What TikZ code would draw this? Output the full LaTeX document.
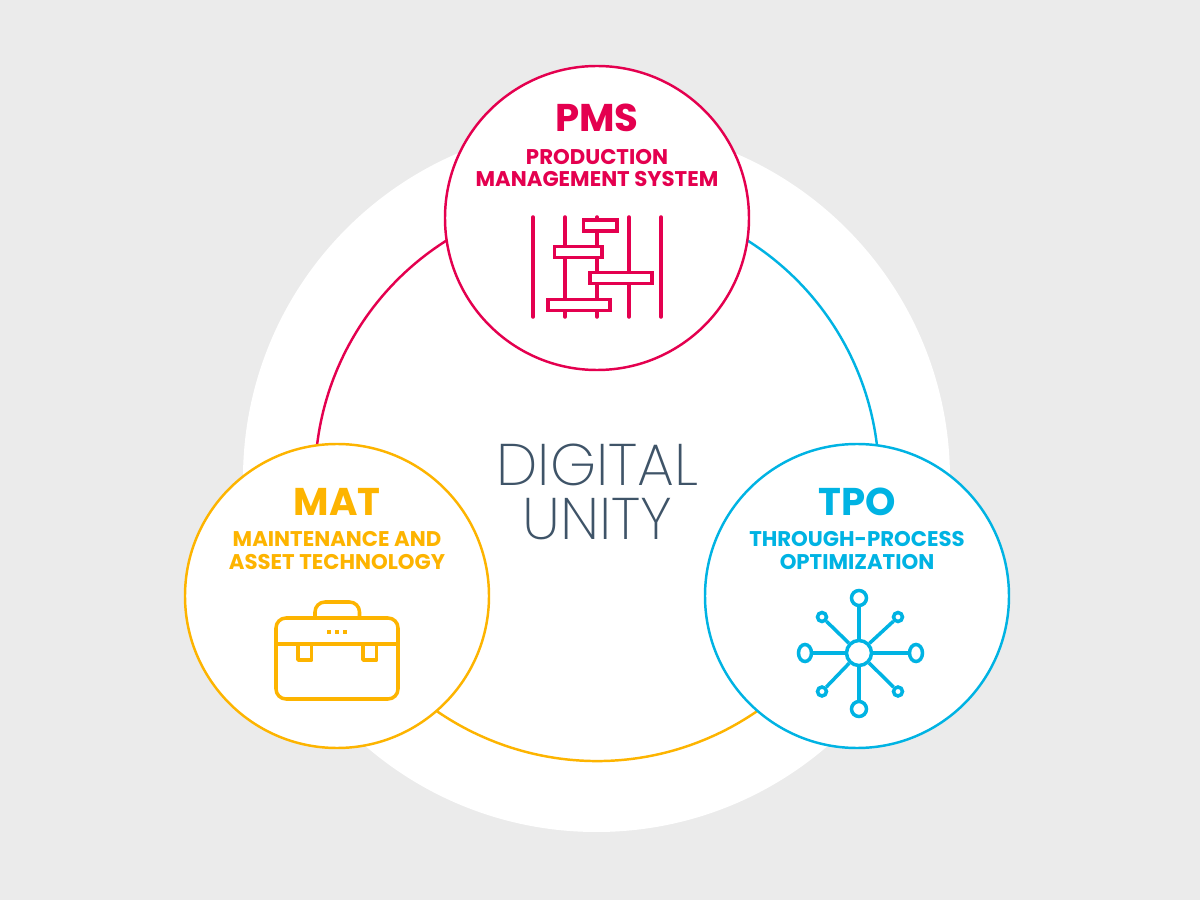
\documentclass[tikz,border=0pt]{standalone}
\usepackage{fontspec}
\setmainfont{Poppins}[UprightFont=* Bold,BoldFont=* Bold]
\newfontfamily\thinfont{Poppins ExtraLight}
\usetikzlibrary{shapes.geometric}
\definecolor{pmsred}{HTML}{E4004F}
\definecolor{matyellow}{HTML}{FDB400}
\definecolor{tpoblue}{HTML}{00B3E3}
\definecolor{paper}{HTML}{EBEBEB}
\definecolor{slate}{HTML}{3F5468}
\tikzset{
	disc/.style={draw=#1, circle, fill=white, line width=0.7pt, minimum size=3.04cm, inner sep=0pt},
	ringarc/.style={draw=#1, line width=0.7pt},
	abbrev/.style={text=#1, font=\fontsize{11}{12}\selectfont},
	longname/.style={text=#1, font=\fontsize{6.05}{6.5}\selectfont},
	unity/.style={text=slate, font=\thinfont\fontsize{16.7}{17}\selectfont},
	icon/.style={draw=#1, line width=1pt, line cap=round, line join=round},
	bar/.style={draw=pmsred, fill=white, line width=1pt, rectangle, inner sep=0pt},
	net/.style={draw=tpoblue, fill=white, line width=1pt, inner sep=0pt}
}
\begin{document}
\begin{tikzpicture}
	\useasboundingbox (0,0) rectangle (12,9);
	\fill [paper] (0,0) rectangle (12,9);
	\fill [white] (5.965,4.215) circle (3.535cm);
	\coordinate (center) at (5.97,4.21);
	% Anello
	\draw [ringarc=pmsred] ([shift={(90:2.82)}]center) arc (90:204:2.82);
	\draw [ringarc=tpoblue] ([shift={(90:2.82)}]center) arc (90:-24:2.82);
	\draw [ringarc=matyellow] ([shift={(204:2.82)}]center) arc (204:336:2.82);
	% Cerchi
	\node [disc=pmsred] (pms) at (5.97,6.82) {};
	\node [disc=matyellow] (mat) at (3.37,3.04) {};
	\node [disc=tpoblue] (tpo) at (8.57,3.04) {};
	% Centro
	\node [unity] (digital) at (5.975,4.35) {DIGITAL};
	\node [unity] (unity) at (5.975,3.81) {UNITY};
	% PMS
	\node [abbrev=pmsred] (pmstitle) at (5.97,7.82) {PMS};
	\node [longname=pmsred] (pmsline) at (5.97,7.43) {PRODUCTION};
	\node [longname=pmsred] (pmslinetwo) at (5.97,7.21) {MANAGEMENT SYSTEM};
	\foreach \x in {5.33,5.65,5.97,6.29,6.61}
		\draw [icon=pmsred] (\x,6.83) -- (\x,5.83);
	\node [bar, minimum width=0.335cm, minimum height=0.11cm] (barone) at (6.003,6.745) {};
	\node [bar, minimum width=0.475cm, minimum height=0.11cm] (bartwo) at (5.782,6.48) {};
	\node [bar, minimum width=0.62cm, minimum height=0.11cm] (barthree) at (6.21,6.22) {};
	\node [bar, minimum width=0.62cm, minimum height=0.11cm] (barfour) at (5.79,5.95) {};
	% MAT
	\node [abbrev=matyellow] (mattitle) at (3.37,3.98) {MAT};
	\node [longname=matyellow] (matline) at (3.37,3.61) {MAINTENANCE AND};
	\node [longname=matyellow] (matlinetwo) at (3.37,3.38) {ASSET TECHNOLOGY};
	\draw [icon=matyellow, rounded corners=1mm] (3.15,2.82) -- (3.15,2.98) -- (3.595,2.98) -- (3.595,2.82);
	\draw [icon=matyellow, fill=white, rounded corners=1mm] (2.76,2.01) rectangle (3.98,2.82);
	\draw [icon=matyellow] (2.76,2.56) -- (3.98,2.56);
	\draw [icon=matyellow, line cap=butt] (2.98,2.56) -- (2.98,2.4) -- (3.117,2.4) -- (3.117,2.56);
	\draw [icon=matyellow, line cap=butt] (3.63,2.56) -- (3.63,2.4) -- (3.767,2.4) -- (3.767,2.56);
	\foreach \x in {3.29,3.37,3.45}
		\fill [matyellow] (\x-0.02,2.66) rectangle (\x+0.02,2.7);
	% TPO
	\node [abbrev=tpoblue] (tpotitle) at (8.57,3.98) {TPO};
	\node [longname=tpoblue] (tpoline) at (8.57,3.61) {THROUGH-PROCESS};
	\node [longname=tpoblue] (tpolinetwo) at (8.57,3.38) {OPTIMIZATION};
	\node [net, circle, minimum size=0.25cm] (nethub) at (8.59,2.47) {};
	\node [net, circle, minimum size=0.15cm] (nettop) at (8.59,3.02) {};
	\node [net, circle, minimum size=0.15cm] (netbottom) at (8.59,1.91) {};
	\node [net, ellipse, minimum width=0.13cm, minimum height=0.17cm] (netleft) at (8.05,2.47) {};
	\node [net, ellipse, minimum width=0.13cm, minimum height=0.17cm] (netright) at (9.16,2.47) {};
	\node [net, circle, minimum size=0.09cm] (netnw) at (8.22,2.83) {};
	\node [net, circle, minimum size=0.09cm] (netne) at (8.98,2.83) {};
	\node [net, circle, minimum size=0.09cm] (netsw) at (8.22,2.085) {};
	\node [net, circle, minimum size=0.09cm] (netse) at (8.98,2.085) {};
	\foreach \n in {nettop,netbottom,netleft,netright,netnw,netne,netsw,netse}
		\draw [draw=tpoblue, line width=1pt] (nethub) -- (\n);
\end{tikzpicture}
\end{document}
